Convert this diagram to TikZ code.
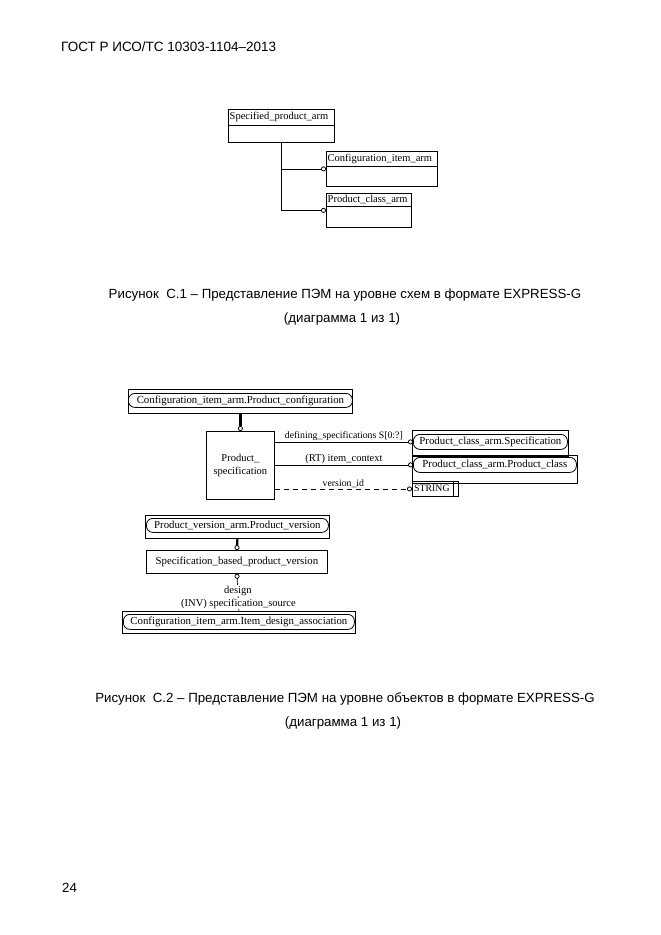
\documentclass[tikz,border=0pt]{standalone}
\usepackage{fontspec}
\setmainfont{Liberation Serif}
\newfontfamily\capfont{Liberation Sans}
\usetikzlibrary{arrows.meta}
\begin{document}
\begin{tikzpicture}[x=1pt,y=-1pt,
  dfont/.style={font=\fontsize{10.8}{13}\selectfont},
  lfont/.style={font=\fontsize{10.5}{12}\selectfont},
  ebox/.style={draw,line width=0.8pt,inner sep=0pt,anchor=north west},
  pill/.style={draw,line width=0.8pt,rounded corners=6.5pt,inner sep=0pt,anchor=north west,dfont,minimum height=14pt},
  btxt/.style={dfont,inner sep=0.5pt},
  lbl/.style={lfont,inner sep=0.5pt},
  captxt/.style={font=\capfont\fontsize{13.3}{16}\selectfont,inner sep=0pt},
  conn/.style={line width=0.7pt},
  sub/.style={line width=2.2pt},
  circ/.style={-{Circle[open,length=5pt,line width=0.8pt]}},
  rcirc/.style={{Circle[open,length=5pt,line width=0.8pt]}-},
]
\useasboundingbox[fill=white] (0,0) rectangle (661,935);

% header and page number
\node[captxt,anchor=west,font=\capfont\fontsize{13.5}{16}\selectfont] (hdr) at (61,47) {ГОСТ Р ИСО/ТС 10303-1104–2013};
\node[captxt,anchor=west] (pg) at (62,888) {24};

% ---------- Figure C.1 ----------
\node[ebox,minimum width=106pt,minimum height=33pt] (spa) at (228,109) {};
\node[lbl,anchor=west] (spat) at (229,117) {Specified\_product\_arm};
\draw[conn] ([yshift=-16pt]spa.north west) -- ([yshift=-16pt]spa.north east);

\node[ebox,minimum width=111pt,minimum height=35pt] (cia) at (326,151) {};
\node[lbl,anchor=west] (ciat) at (327,159) {Configuration\_item\_arm};
\draw[conn] ([yshift=-15pt]cia.north west) -- ([yshift=-15pt]cia.north east);

\node[ebox,minimum width=85pt,minimum height=34pt] (pca) at (326,193) {};
\node[lbl,anchor=west] (pcat) at (327,200) {Product\_class\_arm};
\draw[conn] ([yshift=-13pt]pca.north west) -- ([yshift=-13pt]pca.north east);

\draw[conn,circ] (spa.south) |- (pca.west);
\draw[conn,circ] (spa.south |- cia.west) -- (cia.west);

\node[captxt] (c1a) at (345,295) {Рисунок\ \ С.1 – Представление ПЭМ на уровне схем в формате EXPRESS-G};
\node[captxt] (c1b) at (342,319) {(диаграмма 1 из 1)};

% ---------- Figure C.2 ----------
\node[ebox,minimum width=224pt,minimum height=24pt] (pcfg) at (128,389) {};
\node[pill,minimum width=224pt] (pcfgp) at (128,393) {Configuration\_item\_arm.Product\_configuration};

\node[ebox,minimum width=68pt,minimum height=68pt,font=\fontsize{10.5}{13.5}\selectfont,align=center] (ps) at (206,431) {Product\_\\specification};
\draw[sub,circ] (pcfg.south) -- (ps.north);

\node[ebox,minimum width=156pt,minimum height=26pt] (spec) at (412,430) {};
\node[pill,minimum width=154pt,minimum height=15pt] (specp) at (413,434) {Product\_class\_arm.Specification};

\node[ebox,minimum width=165pt,minimum height=28pt] (pcl) at (412,455) {};
\node[pill,minimum width=163pt,minimum height=15pt] (pclp) at (413,457) {Product\_class\_arm.Product\_class};

\node[ebox,minimum width=46pt,minimum height=15pt] (str) at (412,481) {};
\node[lbl,anchor=west,font=\fontsize{9.8}{11}\selectfont] (strt) at (413.5,488.5) {STRING};
\draw[conn] ([xshift=-5pt]str.north east) -- ([xshift=-5pt]str.south east);

\draw[conn,circ] (ps.east |- specp.west) -- (specp.west)
  node[lbl,midway,above,font=\fontsize{9.8}{12}\selectfont] {defining\_specifications S[0:?]};
\draw[conn,circ] (ps.east |- pclp.west) -- (pclp.west)
  node[lbl,midway,above] {(RT) item\_context};
\draw[conn,dashed,dash pattern=on 5pt off 4pt,circ] (ps.east |- str.west) -- (str.west)
  node[lbl,midway,above,font=\fontsize{9.8}{12}\selectfont] {version\_id};

\node[ebox,minimum width=184pt,minimum height=23pt] (pv) at (145,515) {};
\node[pill,minimum width=182pt] (pvp) at (146,518) {Product\_version\_arm.Product\_version};

\node[ebox,minimum width=181pt,minimum height=23pt,dfont] (sbpv) at (146,550) {Specification\_based\_product\_version};
\draw[sub,circ] (pv.south) -- (sbpv.north);

\node[ebox,minimum width=233pt,minimum height=22pt] (ida) at (122,611) {};
\node[pill,minimum width=231pt,minimum height=15pt] (idap) at (123,614) {Configuration\_item\_arm.Item\_design\_association};

\draw[conn,rcirc] (sbpv.south) -- (ida.north)
  node[lbl,fill=white,pos=0.45] {design}
  node[lbl,fill=white,pos=0.8] {(INV) specification\_source};

\node[captxt] (c2a) at (345,699) {Рисунок\ \ С.2 – Представление ПЭМ на уровне объектов в формате EXPRESS-G};
\node[captxt] (c2b) at (343,723) {(диаграмма 1 из 1)};
\end{tikzpicture}
\end{document}
